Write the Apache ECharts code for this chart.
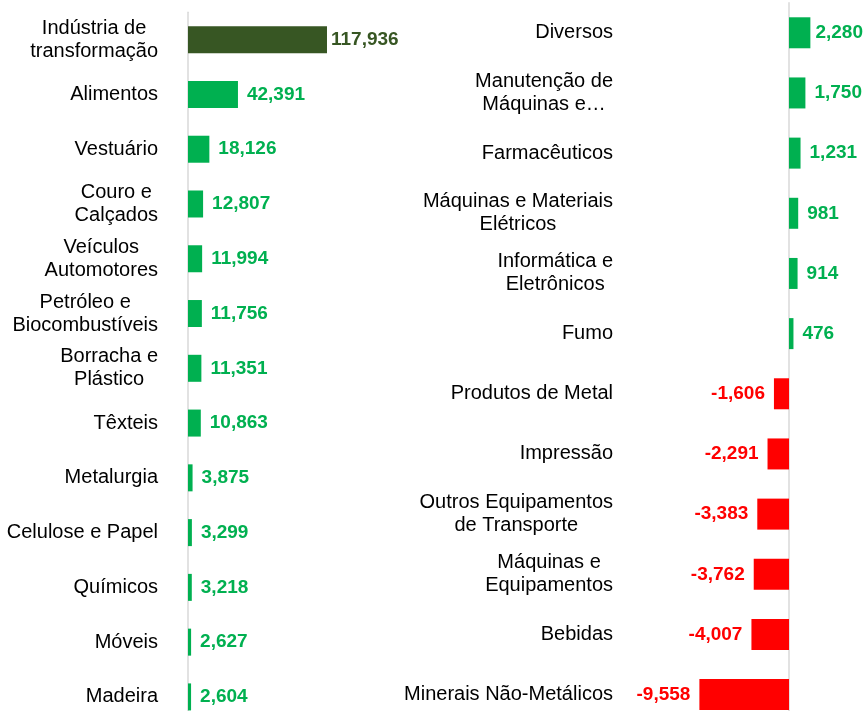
<!DOCTYPE html>
<html><head><meta charset="utf-8">
<script src="https://cdn.jsdelivr.net/npm/echarts@6/dist/echarts.min.js"></script>
<style>html,body{margin:0;padding:0;background:#fff;overflow:hidden}#c{width:864px;height:740px}</style>
</head><body><div id="c"></div>
<script>
const leftCategories = ["Indústria de\ntransformação", "Alimentos", "Vestuário", "Couro e\nCalçados", "Veículos\nAutomotores", "Petróleo e\nBiocombustíveis", "Borracha e\nPlástico", "Têxteis", "Metalurgia", "Celulose e Papel", "Químicos", "Móveis", "Madeira"];
const leftValues = [117936, 42391, 18126, 12807, 11994, 11756, 11351, 10863, 3875, 3299, 3218, 2627, 2604];
const rightCategories = ["Diversos", "Manutenção de\nMáquinas e…", "Farmacêuticos", "Máquinas e Materiais\nElétricos", "Informática e\nEletrônicos", "Fumo", "Produtos de Metal", "Impressão", "Outros Equipamentos\nde Transporte", "Máquinas e\nEquipamentos", "Bebidas", "Minerais Não-Metálicos"];
const rightValues = [2280, 1750, 1231, 981, 914, 476, -1606, -2291, -3383, -3762, -4007, -9558];

const FONT = '"Liberation Sans", Arial, sans-serif';
const GREEN = '#00B050', RED = '#FF0000', DARK = '#375623';
const fmt = v => Math.round(v).toLocaleString('en-US');
const catFormatter = v => v.split('\n').map(s => '{c|' + s + '}').join('\n');
const catRich = { c: { align: 'center', fontSize: 20, lineHeight: 23, color: '#000', fontFamily: FONT } };

function barData(values, totalIndex) {
  return values.map((v, i) => {
    const col = i === totalIndex ? DARK : (v >= 0 ? GREEN : RED);
    return {
      value: v,
      itemStyle: { color: col },
      label: { color: col, position: v >= 0 ? 'right' : 'left', distance: i === totalIndex ? 4 : 9 }
    };
  });
}

const chart = echarts.init(document.getElementById('c'), null, { renderer: 'canvas' });
chart.setOption({
  animation: false,
  backgroundColor: '#fff',
  grid: [
    { left: 188, top: 12.3, width: 165, height: 712 },
    { left: 639, top: 2.7, width: 225, height: 722 }
  ],
  xAxis: [
    { type: 'value', gridIndex: 0, min: 0, max: 140000, show: false },
    { type: 'value', gridIndex: 1, min: -16000, max: 8000, show: false }
  ],
  yAxis: [
    { type: 'category', gridIndex: 0, data: leftCategories, inverse: true,
      axisLine: { show: true, onZero: false, lineStyle: { color: '#d9d9d9', width: 1.5 } },
      axisTick: { show: false }, splitLine: { show: false },
      axisLabel: { margin: 30, align: 'right', formatter: catFormatter, rich: catRich, interval: 0 } },
    { type: 'category', gridIndex: 1, data: rightCategories, inverse: true,
      axisLine: { show: true, onZero: true, lineStyle: { color: '#d9d9d9', width: 1.5 } },
      axisTick: { show: false }, splitLine: { show: false },
      axisLabel: { margin: 26, align: 'right', formatter: catFormatter, rich: catRich, interval: 0 } }
  ],
  series: [
    { type: 'bar', xAxisIndex: 0, yAxisIndex: 0, barWidth: 27, data: barData(leftValues, 0),
      label: { show: true, fontSize: 19, fontWeight: 'bold', fontFamily: FONT, formatter: p => fmt(p.value) } },
    { type: 'bar', xAxisIndex: 1, yAxisIndex: 1, barWidth: 31, data: barData(rightValues, -1),
      label: { show: true, fontSize: 19, fontWeight: 'bold', fontFamily: FONT, formatter: p => fmt(p.value) },
      labelLayout: function (params) {
        const r = params.labelRect;
        const over = r.x + r.width - 863;
        return over > 0 ? { dx: -over } : {};
      } }
  ]
});
</script>
</body></html>
